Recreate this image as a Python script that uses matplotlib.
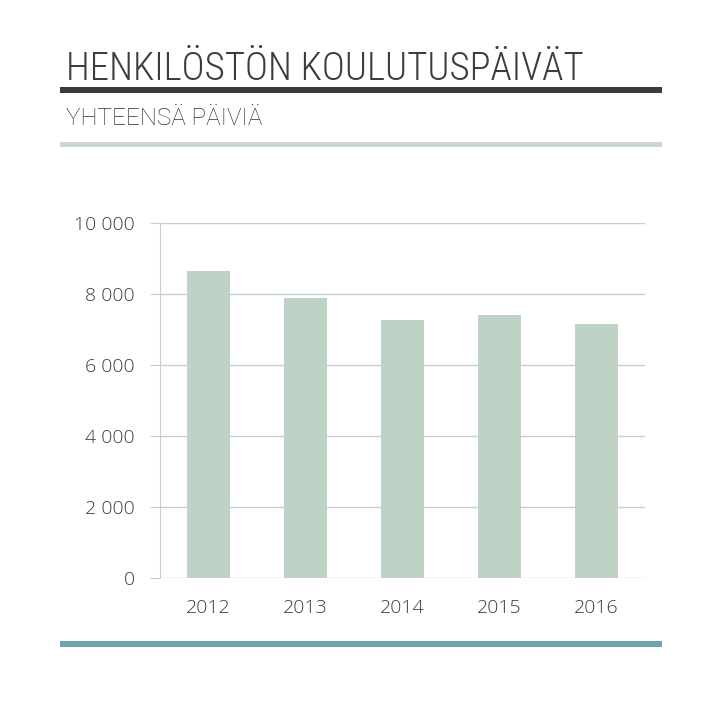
import matplotlib.pyplot as plt
from matplotlib import font_manager
from matplotlib.patches import Rectangle
from matplotlib.ticker import FuncFormatter

years = ['2012', '2013', '2014', '2015', '2016']
days = [8657, 7897, 7277, 7418, 7164]
yticks = [0, 2000, 4000, 6000, 8000, 10000]

title = 'HENKILÖSTÖN KOULUTUSPÄIVÄT'
subtitle = 'YHTEENSÄ PÄIVIÄ'

W, H = 722, 708
bar_color = '#bfd2c6'
grid_color = '#c5ccd3'
text_color = '#3a3d40'

plt.rcParams['font.family'] = ['Open Sans', 'DejaVu Sans']

# a condensed face if the system has one, otherwise plain Roboto a bit smaller
names = {f.name for f in font_manager.fontManager.ttflist}
condensed = sorted(n for n in names if 'Condensed' in n or 'Narrow' in n)
if 'Roboto Condensed' in names:
    condensed.insert(0, 'Roboto Condensed')
if condensed:
    head_font, head_size = condensed[0], 28
else:
    head_font, head_size = 'Roboto', 24.8

fig = plt.figure(figsize=(W / 100, H / 100), dpi=100)


def band(x0, x1, y0, y1, color):
    # pixel coords from top-left
    fig.add_artist(Rectangle((x0 / W, 1 - y1 / H), (x1 - x0) / W, (y1 - y0) / H,
                             transform=fig.transFigure, color=color, lw=0))


fig.text(66 / W, 1 - 79.5 / H, title, fontsize=head_size, color=text_color,
         family=[head_font, 'DejaVu Sans'], fontweight='light',
         va='baseline', ha='left')
band(60, 662, 87, 93, '#393c3f')
fig.text(66 / W, 1 - 125 / H, subtitle, fontsize=17.5, color='#2e3134',
         family=['Roboto', 'DejaVu Sans'], fontweight='light',
         va='baseline', ha='left')
band(60, 662, 142, 147, '#c9d9cf')
band(60, 662, 641, 647, '#6fa5b0')

ax = fig.add_axes([160 / W, 130 / H, 485 / W, 355 / H])
ax.bar(range(len(years)), days, width=0.45, color=bar_color, zorder=2)
ax.set_xlim(-0.5, len(years) - 0.5)
ax.set_ylim(0, 10000)
ax.set_yticks(yticks)
ax.yaxis.set_major_formatter(FuncFormatter(lambda v, p: f'{int(v):,}'.replace(',', ' ')))
ax.set_xticks(range(len(years)))
ax.set_xticklabels(years)
ax.grid(axis='y', color=grid_color, lw=1, zorder=0)
for s in ['top', 'right', 'bottom']:
    ax.spines[s].set_visible(False)
ax.spines['left'].set_color(grid_color)
ax.tick_params(axis='y', length=7, color=grid_color, pad=11, labelsize=14,
               labelcolor='#3a3d40')
ax.tick_params(axis='x', length=0, pad=15, labelsize=14, labelcolor='#3a3d40')
for lab in ax.get_xticklabels() + ax.get_yticklabels():
    lab.set_fontweight('light')

fig.savefig('out.png', dpi=100)
